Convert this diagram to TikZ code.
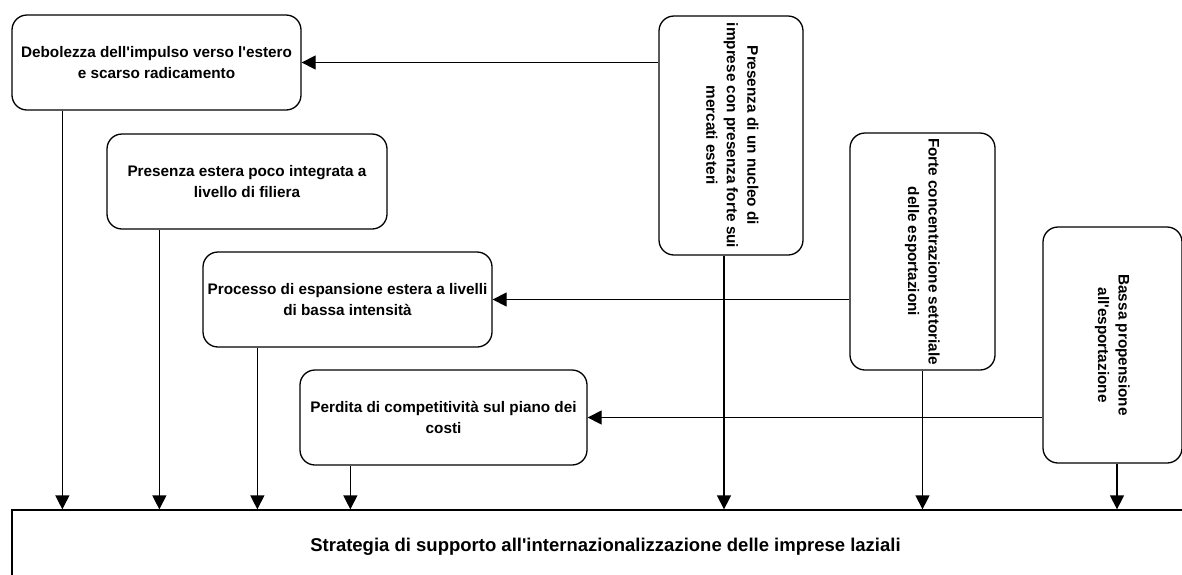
\documentclass[tikz,border=0pt]{standalone}
\usepackage{fontspec}
\setmainfont{Liberation Sans}
\usetikzlibrary{positioning, arrows.meta}

\tikzset{
  cause/.style={draw, rounded corners=15pt, line width=1.3pt, align=center, inner sep=0pt,
    font=\bfseries\fontsize{15.3}{20.5}\selectfont},
  link/.style={line width=1.3pt, -{Triangle[length=14pt,width=14pt]}},
}
\newcommand{\vlabel}[1]{\rotatebox{-90}{\begin{tabular}{@{}c@{}}#1\end{tabular}}}
\newcommand{\ap}{\textquotesingle}

\begin{document}
\begin{tikzpicture}[x=1pt, y=-1pt]
  \useasboundingbox (0,0) rectangle (1182,574);

  % horizontal causes
  \node[cause, minimum width=289pt, minimum height=95pt] (weak) at (156.5,62.5)
    {Debolezza dell\ap impulso verso l\ap estero\\e scarso radicamento};
  \node[cause, minimum width=280pt, minimum height=95pt] (chain) at (247,181.5)
    {Presenza estera poco integrata a\\livello di filiera};
  \node[cause, minimum width=289pt, minimum height=95pt] (scale) at (347.5,299.5)
    {Processo di espansione estera a livelli\\di bassa intensità};
  \node[cause, minimum width=287pt, minimum height=95pt] (cost) at (443.5,417.5)
    {Perdita di competitività sul piano dei\\costi};

  % vertical causes
  \node[cause, minimum width=144pt, minimum height=239pt] (core) at (731,135.5)
    {\vlabel{Presenza di un nucleo di\\imprese con presenza forte sui\\mercati esteri}};
  \node[cause, minimum width=145pt, minimum height=237pt] (sector) at (922.5,251.5)
    {\vlabel{Forte concentrazione settoriale\\delle esportazioni}};
  \node[cause, minimum width=139pt, minimum height=236pt] (export) at (1112.5,345)
    {\vlabel{Bassa propensione\\all\ap esportazione}};

  % goal
  \node[draw, line width=1.3pt, minimum width=1187pt, minimum height=74pt, inner sep=0pt,
    font=\bfseries\fontsize{18.5}{22}\selectfont] (goal) at (605.5,547)
    {Strategia di supporto all\ap internazionalizzazione delle imprese laziali};

  % side links
  \draw[link] (weak.east -| core.west) -- (weak.east);
  \draw[link] (scale.east -| sector.west) -- (scale.east);
  \draw[link] (cost.east -| export.west) -- (cost.east);

  % links down to the goal
  \foreach \n/\dx in {weak/51, chain/53, scale/55, cost/51}{
    \draw[link] ([xshift=\dx pt]\n.south west) -- ([xshift=\dx pt]\n.south west |- goal.north);
  }
  \foreach \n/\dx in {core/-7, sector/0, export/4.5}{
    \draw[link] ([xshift=\dx pt]\n.south) -- ([xshift=\dx pt]\n.south |- goal.north);
  }
\end{tikzpicture}
\end{document}
